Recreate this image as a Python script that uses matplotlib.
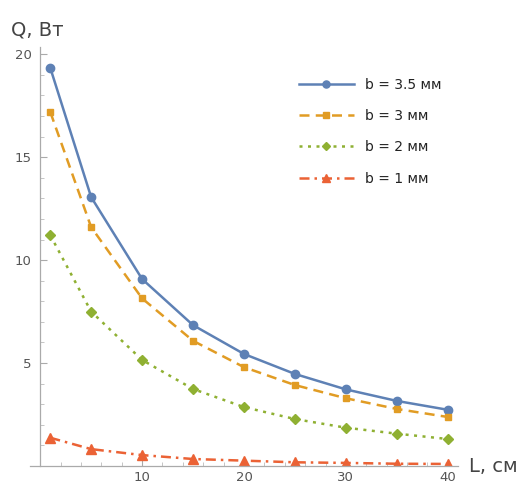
import matplotlib
matplotlib.use("Agg")
import matplotlib.pyplot as plt
from matplotlib.ticker import MultipleLocator

L = [1, 5, 10, 15, 20, 25, 30, 35, 40]
q_35 = [19.32, 13.06, 9.08, 6.84, 5.44, 4.47, 3.72, 3.16, 2.73]
q_3 = [17.18, 11.6, 8.14, 6.08, 4.8, 3.93, 3.29, 2.77, 2.38]
q_2 = [11.2, 7.5, 5.15, 3.74, 2.86, 2.28, 1.86, 1.57, 1.31]
q_1 = [1.37, 0.82, 0.53, 0.34, 0.26, 0.18, 0.15, 0.11, 0.10]
labels = ["b = 3.5 мм", "b = 3 мм", "b = 2 мм", "b = 1 мм"]

W, H = 519, 482
fig = plt.figure(figsize=(W / 100, H / 100), dpi=100)
ax = fig.add_axes([30 / W, (H - 466) / H, (458 - 30) / W, (466 - 47) / H])
ax.set_xlim(-1, 41)
ax.set_ylim(0, 20.35)

ax.plot(L, q_35, color="#5E81B5", lw=1.8, ls="-", marker="o", ms=6, label=labels[0])
ax.plot(L, q_3, color="#E19C24", lw=1.8, ls=(0, (4, 2.5)), marker="s", ms=4.5, label=labels[1])
ax.plot(L, q_2, color="#8FB032", lw=1.8, ls=(0, (1.2, 2.2)), marker="D", ms=5, label=labels[2])
ax.plot(L, q_1, color="#EB6235", lw=1.8, ls=(0, (4, 2, 1, 2)), marker="^", ms=6.5, label=labels[3])

for s in ["top", "right"]:
    ax.spines[s].set_visible(False)
ax.spines["left"].set_position(("data", 0))
for s in ["left", "bottom"]:
    ax.spines[s].set_color("#aaaaaa")
    ax.spines[s].set_linewidth(0.9)

ax.xaxis.set_minor_locator(MultipleLocator(2))
ax.yaxis.set_minor_locator(MultipleLocator(1))
ax.set_xticks([10, 20, 30, 40])
ax.set_yticks([5, 10, 15, 20])
ax.tick_params(which="major", direction="in", length=5, width=0.8, color="#aaaaaa",
               labelsize=9.5, labelcolor="#555555")
ax.tick_params(which="minor", direction="in", length=3, width=0.6, color="#bbbbbb")
ax.tick_params(axis="y", pad=6)

fig.text(11 / W, 1 - 30 / H, "Q, Вт", fontsize=14, color="#444444", va="center", ha="left")
fig.text(469 / W, 1 - 467 / H, "L, см", fontsize=14, color="#444444", va="center", ha="left")

leg = ax.legend(loc="upper left", bbox_to_anchor=(293 / W, 1 - 72 / H), bbox_transform=fig.transFigure,
                frameon=False, fontsize=10, handlelength=4.0, labelspacing=1.25,
                handletextpad=0.8, borderaxespad=0, markerscale=0.85)
for t in leg.get_texts():
    t.set_color("#222222")

fig.savefig("out.png", dpi=100)
